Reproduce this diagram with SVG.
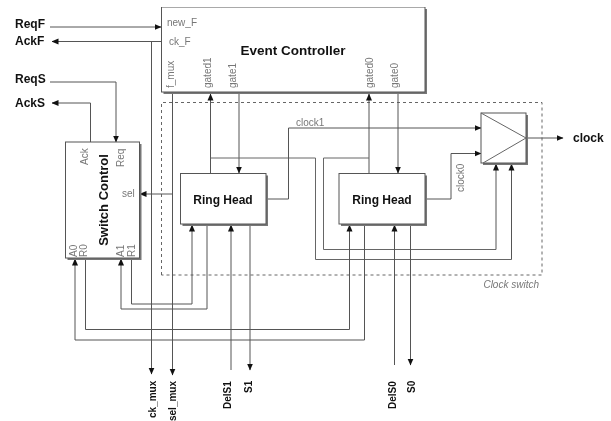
<svg xmlns="http://www.w3.org/2000/svg" width="611" height="421" viewBox="0 0 611 421">
<style>
text{font-family:"Liberation Sans",Arial,sans-serif}
.b{font-weight:bold;font-size:12px;fill:#111}
.s{font-weight:bold;font-size:10px;fill:#111}
.t{font-weight:bold;font-size:13.5px;fill:#111}
.l{font-size:10px;fill:#777}
.box{fill:#fff;stroke:#555;stroke-width:1}
.sh{fill:#777}
.w{fill:none;stroke:#666;stroke-width:1}
.a{fill:none;stroke:#555;stroke-width:1;marker-end:url(#ah)}
</style>
<defs>
<marker id="ah" markerUnits="userSpaceOnUse" markerWidth="7" markerHeight="7" refX="6.5" refY="3.5" orient="auto"><path d="M0,0.5L7,3.5L0,6.5Z" fill="#111"/></marker>
<filter id="soft" x="0" y="0" width="100%" height="100%" color-interpolation-filters="sRGB"><feGaussianBlur stdDeviation="0.35"/></filter>
</defs>
<rect width="611" height="421" fill="#fff"/>
<g filter="url(#soft)">
<path d="M161.5,275V102.5H542V275Z" fill="none" stroke="#666" stroke-dasharray="3 3"/>
<text x="539" y="288" class="l" text-anchor="end" style="font-style:italic">Clock switch</text>
<g id="connectors">
<path class="a" d="M50,27H161"/>
<path class="a" d="M161,41.5H52"/>
<path class="a" d="M151.5,41.5V374"/>
<path class="a" d="M172.5,92V375"/>
<path class="a" d="M172.5,194H140"/>
<path class="a" d="M50,82H116V142"/>
<path class="a" d="M90.5,142V103H52"/>
<path class="a" d="M210.5,173V94"/>
<path class="a" d="M239,92V173"/>
<path class="a" d="M369,173V94"/>
<path class="a" d="M398,92V173"/>
<path class="w" d="M210.5,158H315.5V259.5H511.5"/>
<path class="a" d="M511.5,259.5V164"/>
<path class="w" d="M369,158H323.5V249.5H496"/>
<path class="a" d="M496,249.5V164"/>
<path class="a" d="M266,199H288.5V128H481"/>
<path class="a" d="M425,199H451V153.5H481"/>
<path class="a" d="M526,138H563"/>
<path class="a" d="M131.5,258V304H192V225"/>
<path class="a" d="M207,224V309H121V259"/>
<path class="a" d="M85.5,258V329.5H349.5V225"/>
<path class="a" d="M364.5,224V340H75V259"/>
<path class="a" d="M231,370V225"/>
<path class="a" d="M250,224V370"/>
<path class="a" d="M394.5,365V225"/>
<path class="a" d="M410.5,224V365"/>
</g>
<g id="event-controller">
<rect class="sh" x="163.5" y="9" width="263.5" height="85"/>
<rect class="box" x="161.5" y="7" width="263.5" height="85"/>
<text x="293" y="54.500" class="t" text-anchor="middle">Event Controller</text>
<text x="167" y="26" class="l">new_F</text>
<text x="169" y="45" class="l">ck_F</text>
<text transform="translate(174,88) rotate(-90)" class="l">f_mux</text>
<text transform="translate(211,88) rotate(-90)" class="l">gated1</text>
<text transform="translate(236,88) rotate(-90)" class="l">gate1</text>
<text transform="translate(373,88) rotate(-90)" class="l">gated0</text>
<text transform="translate(398,88) rotate(-90)" class="l">gate0</text>
</g>
<g id="switch-control">
<rect class="sh" x="67.5" y="144" width="74" height="116"/>
<rect class="box" x="65.5" y="142" width="74" height="116"/>
<text transform="translate(108,200) rotate(-90)" class="t" style="font-size:13px" text-anchor="middle">Switch Control</text>
<text transform="translate(88,165) rotate(-90)" class="l">Ack</text>
<text transform="translate(124,167) rotate(-90)" class="l">Req</text>
<text x="122" y="197" class="l">sel</text>
<text transform="translate(77,257) rotate(-90)" class="l">A0</text>
<text transform="translate(87,257) rotate(-90)" class="l">R0</text>
<text transform="translate(124,257) rotate(-90)" class="l">A1</text>
<text transform="translate(135,257) rotate(-90)" class="l">R1</text>
</g>
<g id="ring-head-1">
<rect class="sh" x="182.5" y="175.5" width="85.5" height="50.5"/>
<rect class="box" x="180.5" y="173.5" width="85.5" height="50.5"/>
<text x="223" y="204" class="b" text-anchor="middle">Ring Head</text>
</g>
<g id="ring-head-2">
<rect class="sh" x="341" y="175.5" width="86" height="50.5"/>
<rect class="box" x="339" y="173.5" width="86" height="50.5"/>
<text x="382" y="204" class="b" text-anchor="middle">Ring Head</text>
</g>
<g id="mux">
<rect class="sh" x="483" y="115" width="45" height="50"/>
<rect class="box" x="481" y="113" width="45" height="50"/>
<path class="w" d="M481,113L526,138L483,163"/>
</g>
<text x="296" y="126" class="l">clock1</text>
<text transform="translate(464,192) rotate(-90)" class="l">clock0</text>
<g id="labels">
<text x="15" y="28" class="b">ReqF</text>
<text x="15" y="45" class="b">AckF</text>
<text x="15" y="83" class="b">ReqS</text>
<text x="15" y="107" class="b">AckS</text>
<text x="573" y="142" class="b">clock</text>
<text transform="translate(156,418) rotate(-90)" class="s">ck_mux</text>
<text transform="translate(176,421) rotate(-90)" class="s">sel_mux</text>
<text transform="translate(231,409) rotate(-90)" class="s">DelS1</text>
<text transform="translate(252,393) rotate(-90)" class="s">S1</text>
<text transform="translate(396,409) rotate(-90)" class="s">DelS0</text>
<text transform="translate(415,393) rotate(-90)" class="s">S0</text>
</g>
</g>
</svg>
